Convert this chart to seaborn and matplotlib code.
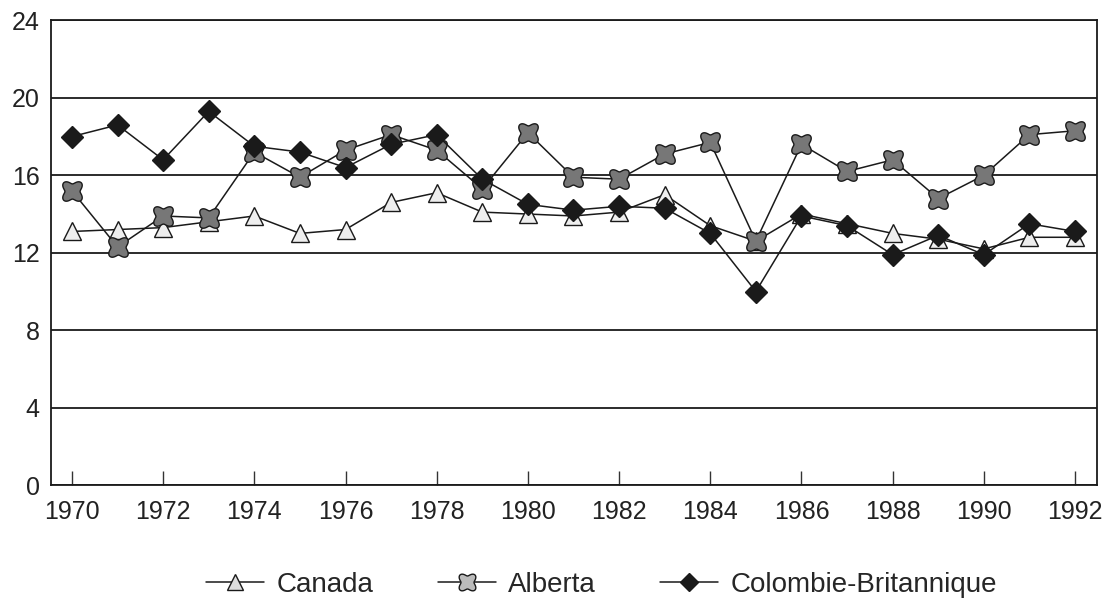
import numpy as np
import pandas as pd
import matplotlib
matplotlib.use('Agg')
import matplotlib.pyplot as plt
import seaborn as sns
from matplotlib.path import Path
from matplotlib.lines import Line2D

sns.set_theme(style="white")
plt.rcParams['font.family'] = ['Liberation Sans', 'DejaVu Sans']

# data
years = list(range(1970, 1993))
canada = [13.1, 13.2, 13.3, 13.6, 13.9, 13.0, 13.2, 14.6, 15.1, 14.1, 14.0, 13.9,
          14.1, 15.0, 13.4, 12.6, 14.0, 13.5, 13.0, 12.7, 12.2, 12.8, 12.8]
alberta = [15.2, 12.3, 13.9, 13.8, 17.2, 15.9, 17.3, 18.1, 17.3, 15.3, 18.2, 15.9,
           15.8, 17.1, 17.7, 12.6, 17.6, 16.2, 16.8, 14.8, 16.0, 18.1, 18.3]
colombie = [18.0, 18.6, 16.8, 19.3, 17.5, 17.2, 16.4, 17.6, 18.1, 15.8, 14.5, 14.2,
            14.4, 14.3, 13.0, 10.0, 13.9, 13.4, 11.9, 12.9, 11.9, 13.5, 13.1]
series_names = ['Canada', 'Alberta', 'Colombie-Britannique']
y_ticks = [0, 4, 8, 12, 16, 20, 24]
x_ticks = list(range(1970, 1993, 2))

df = pd.DataFrame({'Année': years, 'Canada': canada, 'Alberta': alberta,
                   'Colombie-Britannique': colombie})

# rounded-cross marker used for Alberta
theta = np.linspace(0, 2 * np.pi, 81)
r = 1 - 0.24 * np.cos(4 * theta)
verts = np.column_stack([r * np.cos(theta), r * np.sin(theta)])
cross = Path(verts, closed=True)

styles = {
    'Canada': dict(marker='^', markersize=13, markerfacecolor='#eeeeee'),
    'Alberta': dict(marker=cross, markersize=14, markerfacecolor='#777777'),
    'Colombie-Britannique': dict(marker='D', markersize=11, markerfacecolor='#1a1a1a'),
}
legend_faces = {'Canada': '#dddddd', 'Alberta': '#bbbbbb',
                'Colombie-Britannique': '#1a1a1a'}

fig = plt.figure(figsize=(11.08, 5.99), dpi=100)
ax = fig.add_axes([0.046, 0.19, 0.944, 0.776])

for name in series_names:
    sns.lineplot(data=df, x='Année', y=name, ax=ax, color='#1a1a1a', linewidth=1.1,
                 markeredgecolor='#1a1a1a', markeredgewidth=1, **styles[name])

ax.set_xlim(1969.54, 1992.48)
ax.set_ylim(0, 24)
ax.set_yticks(y_ticks)
ax.set_xticks(x_ticks)
ax.yaxis.grid(True, color='#1a1a1a', linewidth=1.3)
ax.xaxis.grid(False)
ax.set_xlabel('')
ax.set_ylabel('')
for s in ax.spines.values():
    s.set_color('#1a1a1a')
    s.set_linewidth(1.3)
ax.tick_params(axis='x', direction='in', length=10, width=1, color='#333333',
               labelsize=18, labelcolor='#222222', pad=11, bottom=True)
ax.tick_params(axis='y', length=0, labelsize=18, labelcolor='#222222', pad=8)

# separate legend handles (legend markers are smaller / lighter)
handles = []
for name in series_names:
    st = dict(styles[name])
    st['markersize'] = st['markersize'] - 2
    st['markerfacecolor'] = legend_faces[name]
    handles.append(Line2D([], [], color='#1a1a1a', linewidth=1.1,
                          markeredgecolor='#1a1a1a', markeredgewidth=1, **st))
fig.legend(handles, series_names, loc='center', bbox_to_anchor=(0.543, 0.024),
           ncol=3, frameon=False, fontsize=20, handlelength=2.1,
           columnspacing=2.3, handletextpad=0.45, borderpad=0)

plt.savefig('out.png', dpi=100)
